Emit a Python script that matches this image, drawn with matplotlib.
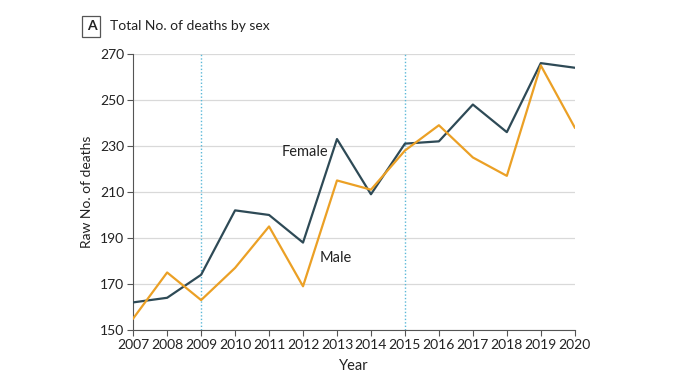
import matplotlib
matplotlib.use("Agg")
import matplotlib.pyplot as plt

# data
years = [2007, 2008, 2009, 2010, 2011, 2012, 2013, 2014, 2015, 2016, 2017, 2018, 2019, 2020]
female = [162, 164, 174, 202, 200, 188, 233, 209, 231, 232, 248, 236, 266, 264]
male = [155, 175, 163, 177, 195, 169, 215, 211, 228, 239, 225, 217, 265, 238]
marker_years = [2009, 2015]
y_ticks = [150, 170, 190, 210, 230, 250, 270]

plt.rcParams["font.family"] = ["Lato", "DejaVu Sans"]
text_col = "#222222"

fig = plt.figure(figsize=(6.9, 3.88), dpi=100)
ax = fig.add_axes([0.193, 0.1495, 0.640, 0.7115])

for yr in marker_years:
    ax.axvline(yr, color="#5bb8d8", lw=1.0, ls=(0, (1, 1.5)), zorder=2)

ax.plot(years, female, color="#2e4a56", lw=1.6, zorder=3)
ax.plot(years, male, color="#eba025", lw=1.6, zorder=3)

ax.text(2012.06, 227.5, "Female", fontsize=10.5, color=text_col, ha="center", va="center")
ax.text(2012.95, 181.5, "Male", fontsize=10.5, color=text_col, ha="center", va="center")

ax.set_xlim(2007, 2020)
ax.set_ylim(150, 270)
ax.set_xticks(years)
ax.set_yticks(y_ticks)
ax.tick_params(axis="both", labelsize=10, colors="#555555", labelcolor=text_col,
               length=4, width=0.8, pad=2.5)
ax.yaxis.grid(True, color="#d9d9d9", lw=0.9)
ax.set_axisbelow(True)
for s in ["top", "right"]:
    ax.spines[s].set_visible(False)
for s in ["left", "bottom"]:
    ax.spines[s].set_color("#555555")
    ax.spines[s].set_linewidth(0.8)

ax.set_xlabel("Year", fontsize=10.5, color=text_col, labelpad=6)
ax.set_ylabel("Raw No. of deaths", fontsize=10, color=text_col, labelpad=5)

# panel tag and title
fig.text(0.1325, 0.932, "A", fontsize=10, fontweight="bold", color=text_col,
         ha="center", va="center",
         bbox=dict(boxstyle="square,pad=0.3", fc="white", ec="#555555", lw=0.9))
fig.text(0.159, 0.932, "Total No. of deaths by sex", fontsize=10, color=text_col,
         ha="left", va="center")

fig.savefig("out.png", dpi=100)
